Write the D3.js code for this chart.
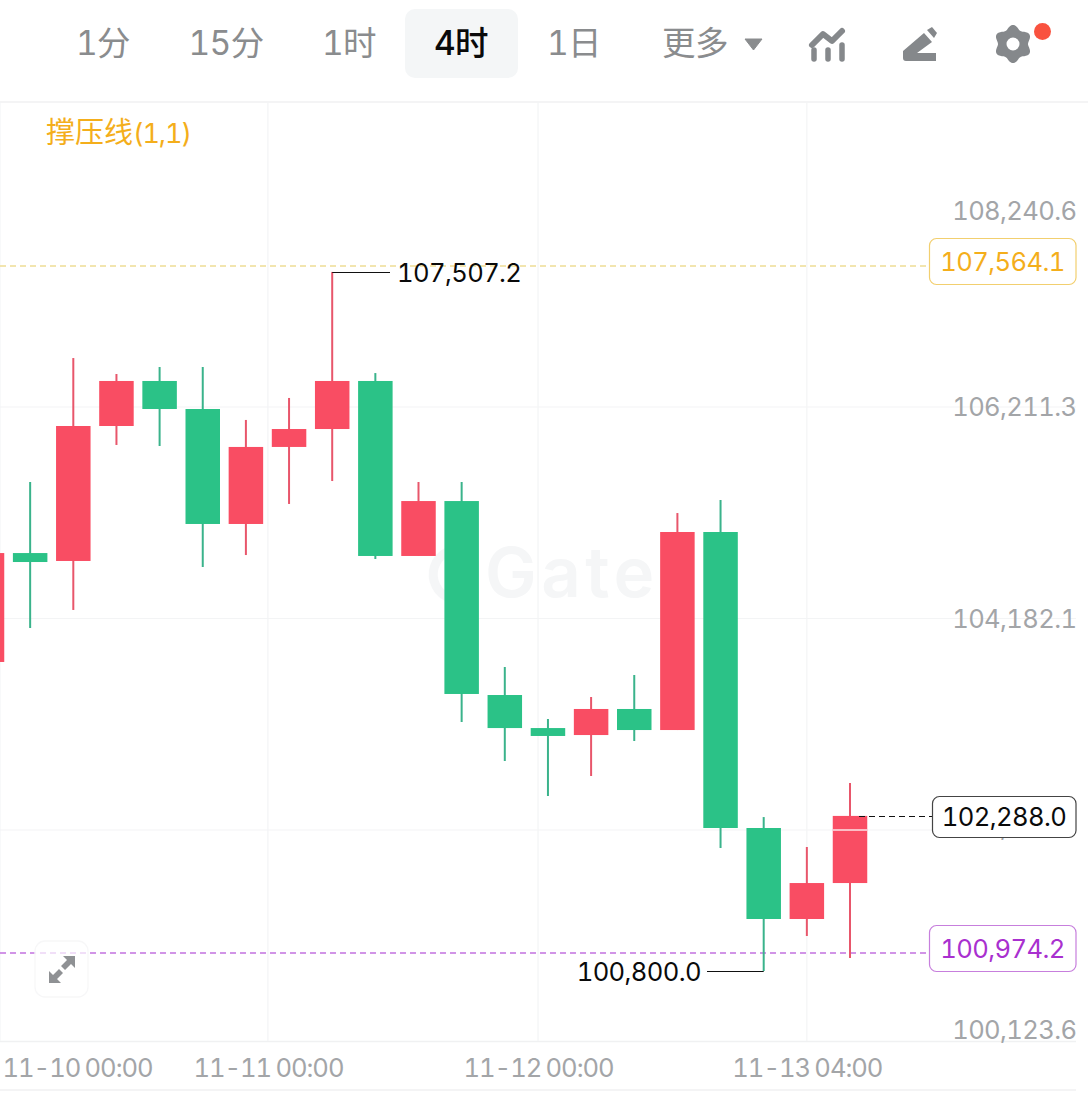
<!DOCTYPE html>
<html><head><meta charset="utf-8">
<script src="https://cdn.jsdelivr.net/npm/d3@7"></script>
<style>html,body{margin:0;padding:0;background:#fff;overflow:hidden}svg{display:block}
text{font-family:Inter,"Noto Sans CJK SC",sans-serif;font-variant-numeric:tabular-nums;font-feature-settings:"tnum" 1}
.num{letter-spacing:-.62px}
.time{letter-spacing:-1.05px;word-spacing:-1.5px}</style></head><body>
<svg id="c" width="1088" height="1095"></svg>
<script>
// Price series
const opens  = [103765,104810,104734,106029,106461,106192,105089,105828,106000,106461,104782,105309,103448,103131,103064,103314,103112,105012,102172,101299,101644];
const closes = [104810,104724,106029,106461,106192,105089,105828,106000,106461,104782,105309,103458,103131,103055,103314,103112,105012,102172,101299,101644,102288];
const highs  = [104810,105492,106681,106528,106595,106595,106087,106298,107507.2,106537,105492,105492,103717,103218,103429,103640,105194,105319,102277,101990,102604];
const lows   = [103765,104091,104264,105847,105837,104676,104791,105281,105501,104753,104782,103189,102815,102479,102671,103007,103112,101980,100800,101136,100925];
const priceTicks = [108240.6,106211.3,104182.1,102153.0,100123.6];
const timeTicks  = [0.3,6.51,12.77,19];
const timeLabels = ["11-10 00:00","11-11 00:00","11-12 00:00","11-13 04:00"];
const tabs = ["1分","15分","1时","4时","1日","更多"];
const supportLevel = 100974.2, resistLevel = 107564.1, lastPrice = 102288.0;
const maxPrice = 107507.2, minPrice = 100800.0;
const legendName = "撑压线", legendArgs = "(1,1)";

const GREEN="#2BC287",RED="#F94D63",GOLD="#F4AE1B",PURPLE="#A930CF",GRID="#F3F4F5",MUTED="#A3A5A8",TAB="#8A8C8E";
const svg=d3.select("#c");
const y=d3.scaleLinear().domain([106211.3,104182.1]).range([407,618.5]);
const x=d3.scaleLinear().domain([0,20]).range([-13,850]);
const fmt=v=>d3.format(",.1f")(v);
const crisp=p=>Math.round(p)+.5;
const FS=25.6;

// frame lines
[102,1041.5,1090].forEach(p=>svg.append("line").attr("x1",0).attr("x2",p===102?1088:1076).attr("y1",p).attr("y2",p).attr("stroke","#F0F1F2").attr("stroke-width",1.3));
// grid
svg.append("g").selectAll("line").data(priceTicks.slice(1,4)).join("line")
 .attr("x1",0).attr("x2",1076).attr("y1",d=>y(d)).attr("y2",d=>y(d)).attr("stroke",GRID).attr("stroke-width",1.2);
svg.append("g").selectAll("line").data(timeTicks).join("line")
 .attr("x1",d=>x(d)).attr("x2",d=>x(d)).attr("y1",102).attr("y2",1041).attr("stroke",GRID).attr("stroke-width",1.2);

// watermark
const wm=svg.append("g");
wm.append("path").attr("d","M 447 552 A 23 23 0 1 0 470 597").attr("fill","none").attr("stroke","#F5F6F7").attr("stroke-width",9);
wm.append("text").attr("x",485).attr("y",597).attr("font-size",69).attr("font-weight",600).attr("letter-spacing",4.5).attr("fill","#F5F6F7").text("Gate");

// level lines
function level(v,col,x2){svg.append("line").attr("x1",0).attr("x2",x2).attr("y1",crisp(y(v))-.5).attr("y2",crisp(y(v))-.5).attr("stroke",col).attr("stroke-width",1.3).attr("stroke-dasharray","6 4");}
level(resistLevel,"#EEDD95",930);
level(supportLevel,"#C272DF",930);

// candles
const idx=d3.range(opens.length), bw=34.5;
const g=svg.append("g");
g.selectAll("line").data(idx).join("line")
 .attr("x1",i=>x(i)).attr("x2",i=>x(i)).attr("y1",i=>y(highs[i])).attr("y2",i=>y(lows[i]))
 .attr("stroke",i=>closes[i]>=opens[i]?"#E8566B":"#3AB38B").attr("stroke-width",2);
g.selectAll("rect").data(idx).join("rect")
 .attr("x",i=>x(i)-bw/2).attr("width",bw)
 .attr("y",i=>y(Math.max(opens[i],closes[i])))
 .attr("height",i=>Math.abs(y(opens[i])-y(closes[i])))
 .attr("fill",i=>closes[i]>=opens[i]?RED:GREEN);
// grid seam across the last candle
svg.append("line").attr("x1",x(20)-bw/2).attr("x2",x(20)+bw/2).attr("y1",y(102153)).attr("y2",y(102153)).attr("stroke","#FBE3E6").attr("stroke-width",1.3);

// y axis
const yAxis=d3.axisRight(y).tickValues(priceTicks).tickSize(0).tickFormat(fmt);
const ya=svg.append("g").attr("transform","translate(1076.5,0)").call(yAxis);
ya.select(".domain").remove();
ya.selectAll("text").attr("x",0).attr("class","num").attr("text-anchor","end").attr("font-size",FS).attr("fill",MUTED)
 .attr("dy",(d,i)=>i===0?"0.95em":i===4?"-0.1em":i===3?"0.2em":"0.35em");
// x axis
const xa=svg.append("g").attr("transform","translate(0,1041)").call(d3.axisBottom(x).tickValues(timeTicks).tickSize(0).tickFormat((d,i)=>timeLabels[i]));
xa.select(".domain").remove();
xa.selectAll("text").attr("class","time").attr("y",27).attr("dy","0.35em").attr("font-size",FS).attr("fill",MUTED)
 .attr("text-anchor",(d,i)=>i===0?"start":"middle").attr("x",(d,i)=>i===0?2-x(d):0);

// price tags
function tag(v,col,stroke,x0,top,h){
 svg.append("rect").attr("x",x0+.5).attr("y",top+.5).attr("width",1076-x0-.5).attr("height",h).attr("rx",7).attr("fill","#fff").attr("stroke",stroke).attr("stroke-width",1.2);
 svg.append("text").attr("class","num").attr("x",(x0+1076)/2).attr("y",top+h/2+1).attr("dy","0.35em").attr("text-anchor","middle").attr("font-size",FS).attr("fill",col).text(fmt(v));
}
tag(resistLevel,GOLD,"#F2CF6F",929,238,46);
tag(supportLevel,PURPLE,"#C77FDD",929,925,46);
svg.append("line").attr("x1",x(20)+9).attr("x2",932).attr("y1",crisp(y(lastPrice))).attr("y2",crisp(y(lastPrice))).attr("stroke","#111").attr("stroke-width",1.1).attr("stroke-dasharray","6 4");
tag(lastPrice,"#0A0A0A","#444",932,796,41);

// extreme markers
function ext(i,v,x2,anchor){
 svg.append("path").attr("d",`M${x(i)} ${crisp(y(v))}H${x2}`).attr("stroke","#111").attr("stroke-width",1.1).attr("fill","none");
 svg.append("text").attr("class","num").attr("x",anchor==="start"?x2+7:x2-6).attr("y",y(v)+1).attr("dy","0.35em").attr("text-anchor",anchor).attr("font-size",FS).attr("fill","#0A0A0A").text(fmt(v));
}
ext(8,maxPrice,390,"start");
ext(18,minPrice,707,"end");

// legend
const lg=svg.append("text").attr("x",46).attr("y",143).attr("font-size",29).attr("fill",GOLD);
lg.append("tspan").text(legendName);
lg.append("tspan").attr("font-size",27).attr("letter-spacing",-1.1).text(legendArgs);

// tabs
svg.append("rect").attr("x",405).attr("y",9).attr("width",113).attr("height",69).attr("rx",10).attr("fill","#F4F6F7");
const tabX=[103,226,349,461,574,695];
svg.append("g").selectAll("text").data(tabs).join("text")
 .attr("x",(d,i)=>tabX[i]).attr("y",55).attr("text-anchor","middle").attr("font-size",33.5).attr("letter-spacing",-.6)
 .attr("fill",(d,i)=>i===3?"#0A0A0A":TAB).attr("font-weight",(d,i)=>i===3?500:400)
 .text(d=>d);
// dropdown caret
svg.append("path").attr("d","M745 39H762L753.5 50Z").attr("fill",TAB).attr("stroke",TAB).attr("stroke-linejoin","round").attr("stroke-width",1);
// indicator icon
const ic="#85888B";
svg.append("path").attr("d","M812 45L823 34L832 41L842 31").attr("fill","none").attr("stroke",ic).attr("stroke-width",6).attr("stroke-linecap","round").attr("stroke-linejoin","round");
[[814,50],[828,50],[842,45]].forEach(([a,b])=>svg.append("line").attr("x1",a).attr("x2",a).attr("y1",b).attr("y2",59).attr("stroke",ic).attr("stroke-width",5.5).attr("stroke-linecap","round"));
// pen icon
svg.append("path").attr("d","M903 51L924 33L932 42L917 53H936V61H906Q903 61 903 58Z").attr("fill",ic);
svg.append("path").attr("d","M927 30L932 27L937 33L934 38Z").attr("fill",ic);
// gear icon
const gc=[1013,44];
const gp=d3.range(0,360,5).map(a=>{const r=17+2*Math.cos(6*a*Math.PI/180);return [gc[0]+r*Math.sin(a*Math.PI/180),gc[1]-r*Math.cos(a*Math.PI/180)];});
svg.append("path").attr("d",d3.line().curve(d3.curveCardinalClosed)(gp)).attr("fill",ic);
svg.append("circle").attr("cx",gc[0]).attr("cy",gc[1]).attr("r",6.5).attr("fill","#fff");
svg.append("circle").attr("cx",1042.5).attr("cy",31.5).attr("r",8.5).attr("fill","#F9523F");
// expand button
svg.append("rect").attr("x",35).attr("y",941).attr("width",53).attr("height",56).attr("rx",10).attr("fill","#fff").attr("fill-opacity",.7).attr("stroke","#F7F7F8").attr("stroke-width",1.3);
svg.append("path").attr("transform","translate(1,0)").attr("d","M62 956H74V968L70 964L64 970L60 966L66 960Z M48 983V971L52 975L58 969L62 973L56 979L60 983Z").attr("fill","#8F9194");
</script></body></html>
